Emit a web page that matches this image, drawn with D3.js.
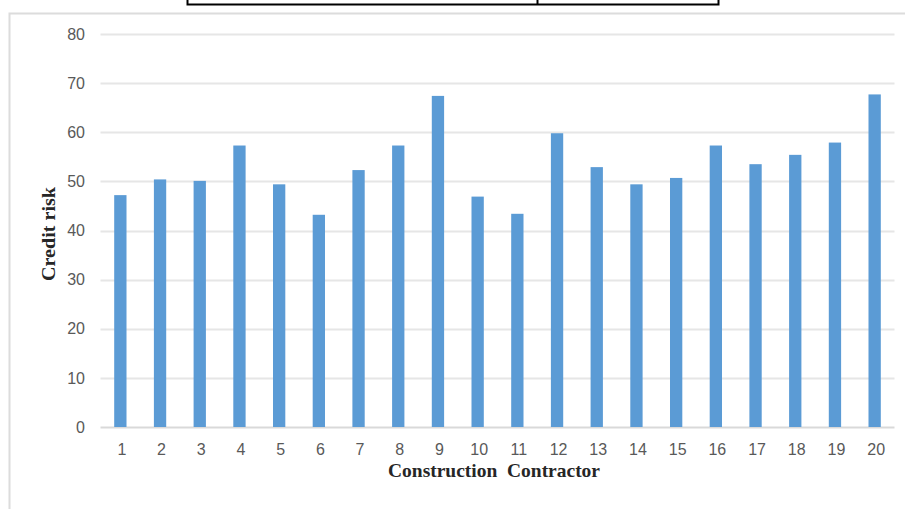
<!DOCTYPE html>
<html>
<head>
<meta charset="utf-8">
<script src="https://cdn.jsdelivr.net/npm/d3@7"></script>
<style>
  html, body { margin: 0; padding: 0; background: #fff; }
  svg { display: block; }
</style>
</head>
<body>
<svg id="chart" width="905" height="509"></svg>
<script>
// Credit risk score for each construction contractor
const contractors = d3.range(1, 21).map(String);
const creditRisk = [47.2, 50.4, 50.1, 57.3, 49.4, 43.2, 52.3, 57.3, 67.4, 46.9,
                    43.4, 59.8, 52.9, 49.4, 50.7, 57.3, 53.5, 55.4, 57.9, 67.7];
const yTicks = [0, 10, 20, 30, 40, 50, 60, 70, 80];

const svg = d3.select("#chart");
const W = 905, H = 509;
const plot = { left: 100.5, right: 894.5, top: 34, bottom: 427 };

// Table border fragment above the chart
const tableBorder = svg.append("g").attr("stroke", "#000").attr("stroke-width", 2).attr("fill", "none");
tableBorder.append("path").attr("d", `M187.5,0V4.5H718.5V0`);
tableBorder.append("line").attr("x1", 537.5).attr("x2", 537.5).attr("y1", 0).attr("y2", 4.5);

// Chart frame
svg.append("path")
  .attr("d", `M9.5,${H}V13.5H${W}`)
  .attr("fill", "none")
  .attr("stroke", "#dcdcdc")
  .attr("stroke-width", 2);

const x = d3.scaleBand()
  .domain(contractors)
  .range([plot.left, plot.right])
  .paddingInner(0.69)
  .paddingOuter(0.345);

const y = d3.scaleLinear()
  .domain([0, 80])
  .range([plot.bottom, plot.top]);

// Gridlines
svg.append("g")
  .selectAll("line")
  .data(yTicks)
  .join("line")
  .attr("x1", plot.left)
  .attr("x2", plot.right)
  .attr("y1", d => Math.round(y(d)) + 0.5)
  .attr("y2", d => Math.round(y(d)) + 0.5)
  .attr("stroke", d => d === 0 ? "#d9d9d9" : "#e6e6e6")
  .attr("stroke-width", 2);

// Bars
svg.append("g")
  .selectAll("rect")
  .data(creditRisk)
  .join("rect")
  .attr("x", (d, i) => x(contractors[i]))
  .attr("width", x.bandwidth())
  .attr("y", d => y(d))
  .attr("height", d => y(0) - y(d))
  .attr("fill", "#5b9bd5");

// Y axis labels
const yAxis = d3.axisLeft(y).tickValues(yTicks).tickSize(0).tickPadding(0);
const gy = svg.append("g")
  .attr("transform", `translate(85,0)`)
  .call(yAxis);
gy.select(".domain").remove();
gy.selectAll("text")
  .attr("font-family", "'Liberation Sans', Arial, sans-serif")
  .attr("font-size", 16)
  .attr("fill", "#595959");

// X axis labels
const xAxis = d3.axisBottom(x).tickSize(0).tickPadding(0);
const gx = svg.append("g")
  .attr("transform", `translate(1.5,444)`)
  .call(xAxis);
gx.select(".domain").remove();
gx.selectAll("text")
  .attr("font-family", "'Liberation Sans', Arial, sans-serif")
  .attr("font-size", 16)
  .attr("fill", "#595959");

// Axis titles
svg.append("text")
  .attr("x", 494)
  .attr("y", 477)
  .attr("text-anchor", "middle")
  .attr("font-family", "'Liberation Serif', 'Times New Roman', serif")
  .attr("font-weight", "bold")
  .attr("font-size", 19)
  .attr("fill", "#262626")
  .attr("textLength", 212)
  .attr("lengthAdjust", "spacingAndGlyphs")
  .attr("xml:space", "preserve")
  .text("Construction  Contractor");

svg.append("text")
  .attr("transform", "translate(55,234) rotate(-90)")
  .attr("text-anchor", "middle")
  .attr("font-family", "'Liberation Serif', 'Times New Roman', serif")
  .attr("font-weight", "bold")
  .attr("font-size", 19)
  .attr("fill", "#262626")
  .attr("textLength", 94)
  .attr("lengthAdjust", "spacingAndGlyphs")
  .text("Credit risk");
</script>
</body>
</html>
